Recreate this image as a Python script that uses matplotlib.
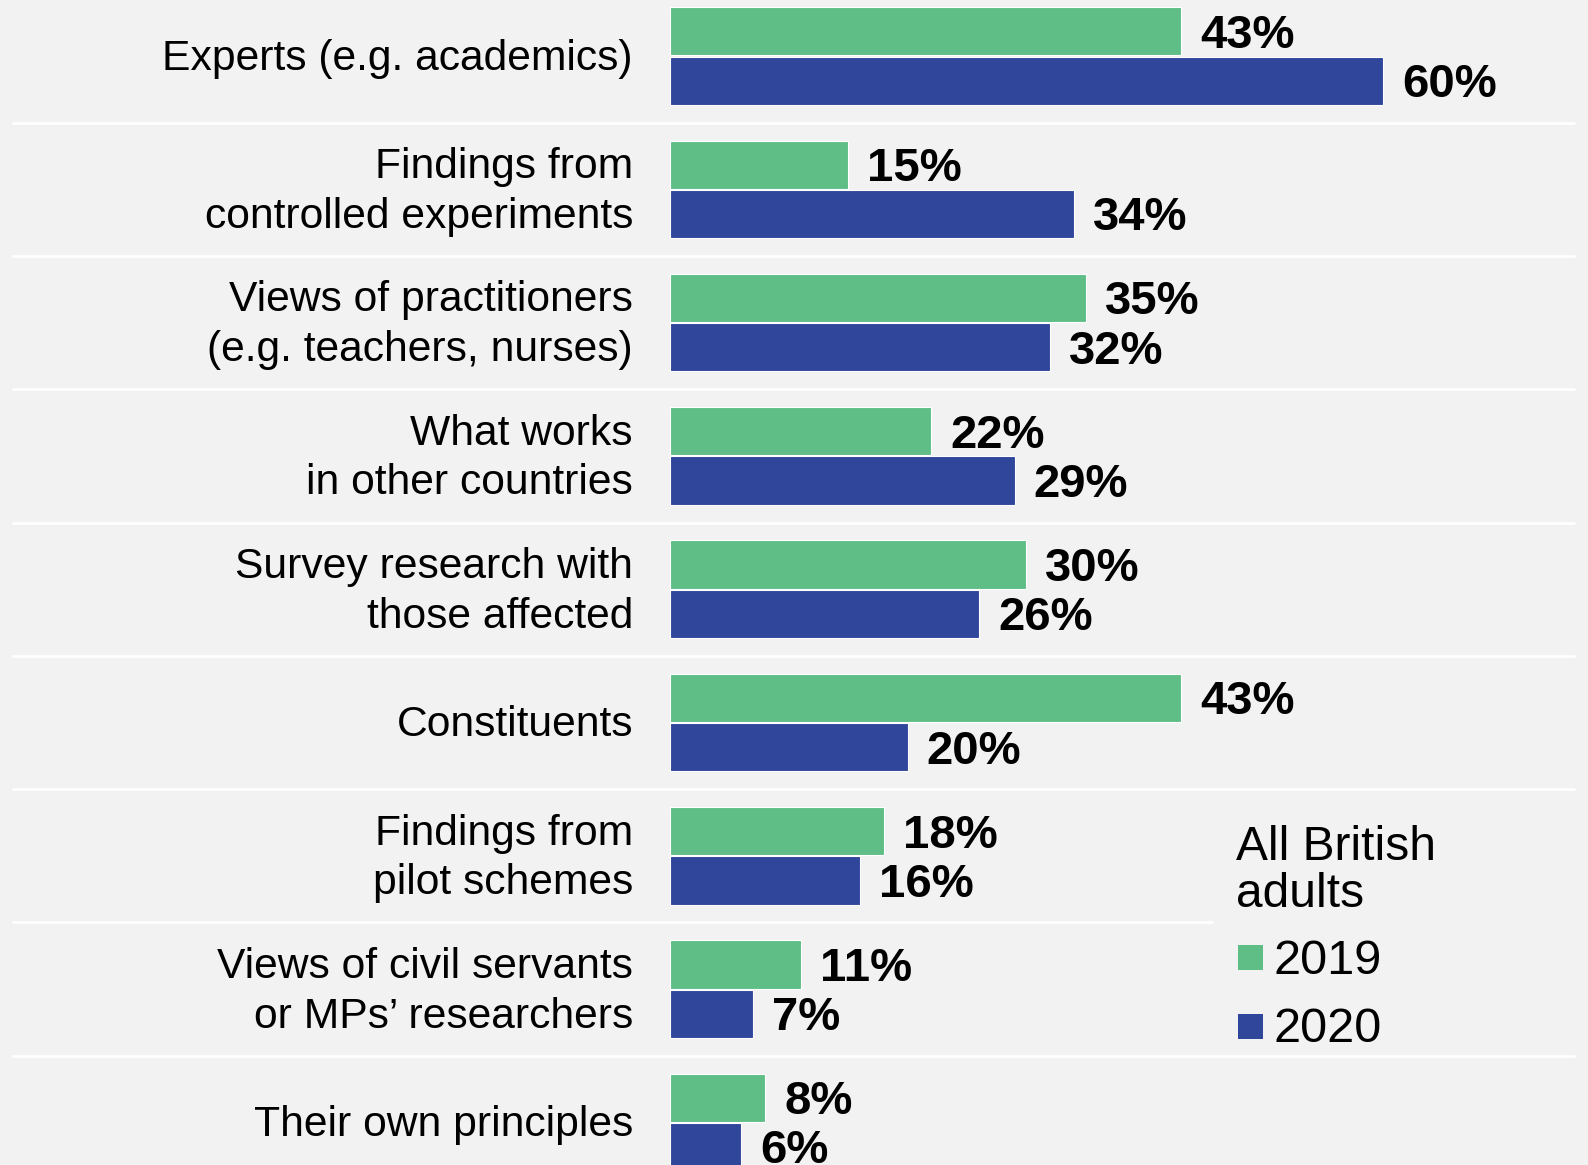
import matplotlib
matplotlib.use("Agg")
import matplotlib.pyplot as plt
from matplotlib.patches import Rectangle

plt.rcParams['font.family'] = ['Liberation Sans', 'DejaVu Sans']

categories = [
    "Experts (e.g. academics)",
    "Findings from\ncontrolled experiments",
    "Views of practitioners\n(e.g. teachers, nurses)",
    "What works\nin other countries",
    "Survey research with\nthose affected",
    "Constituents",
    "Findings from\npilot schemes",
    "Views of civil servants\nor MPs\u2019 researchers",
    "Their own principles",
]
values_2019 = [43, 15, 35, 22, 30, 43, 18, 11, 8]
values_2020 = [60, 34, 32, 29, 26, 20, 16, 7, 6]
series_labels = ["2019", "2020"]
legend_title = "All British\nadults"

GREEN = "#5fbe86"
BLUE = "#2f469a"
BG = "#f2f2f2"

W, H = 1588, 1165
fig = plt.figure(figsize=(W / 100, H / 100), dpi=100, facecolor=BG)
px_per_pct = 11.88
x0 = 670
ax = fig.add_axes([x0 / W, 0, (W - x0) / W, 1])
ax.set_facecolor("none")
ax.axis("off")
ax.set_xlim(0, (W - x0) / px_per_pct)
pitch = 133.3
top_c = 56
ax.set_ylim((H - top_c) / pitch, -top_c / pitch)

def px2x(p):
    return (p - x0) / px_per_pct

def py2y(p):
    return (p - top_c) / pitch

n = len(categories)
ys = list(range(n))
off = 0.185
h = 0.362
ax.barh([y - off for y in ys], values_2019, height=h, color=GREEN,
        edgecolor="white", linewidth=0.8, zorder=3)
ax.barh([y + off for y in ys], values_2020, height=h, color=BLUE,
        edgecolor="white", linewidth=0.8, zorder=3)

voff = 0.033
for y, v in zip(ys, values_2019):
    ax.text(v + 1.6, y - off + voff, f"{v}%", ha="left", va="center",
            fontsize=34, fontweight="bold", color="black", zorder=4)
for y, v in zip(ys, values_2020):
    ax.text(v + 1.6, y + off + voff, f"{v}%", ha="left", va="center",
            fontsize=34, fontweight="bold", color="black", zorder=4)

for y, lab in zip(ys, categories):
    ax.text(px2x(633), y + 0.02, lab, ha="right", va="center", fontsize=30.7,
            linespacing=1.31, color="black", clip_on=False)

# separators
for i in range(n - 1):
    right = px2x(1213) if i == 6 else px2x(1575)
    ax.plot([px2x(12), right], [i + 0.5, i + 0.5], color="white",
            linewidth=2, zorder=1, clip_on=False, solid_capstyle="butt")

# legend
ax.text(px2x(1236), py2y(871), legend_title, ha="left", va="center",
        fontsize=34.5, linespacing=1.04, color="black")
for lab, col, cy in zip(series_labels, [GREEN, BLUE], [958, 1026]):
    ax.add_patch(Rectangle((px2x(1238), py2y(cy - 12.5)), 25 / px_per_pct,
                           25 / pitch, facecolor=col, edgecolor="none",
                           clip_on=False))
    ax.text(px2x(1273), py2y(cy + 4), lab, ha="left", va="center",
            fontsize=35, color="black")

fig.savefig("out.png", dpi=100, facecolor=BG)
